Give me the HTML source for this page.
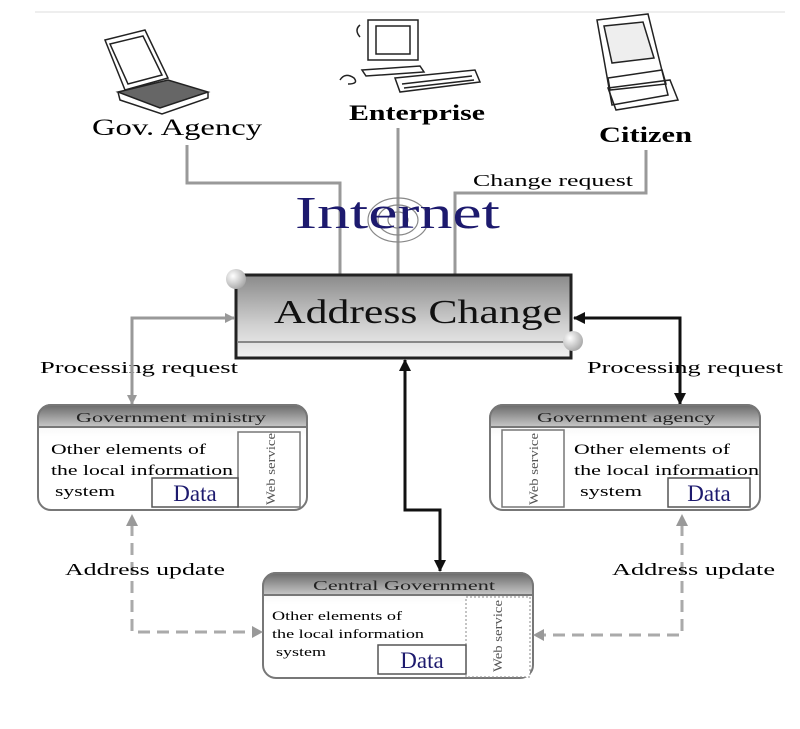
<!DOCTYPE html>
<html><head><meta charset="utf-8"><style>
html,body{margin:0;padding:0;background:#fff;}
svg{display:block;}
text{font-family:"Liberation Serif",serif;}
</style></head><body>
<svg width="800" height="729" viewBox="0 0 800 729" xmlns="http://www.w3.org/2000/svg">
<defs>
<linearGradient id="g1" x1="0" y1="0" x2="0" y2="1">
<stop offset="0" stop-color="#8a8a8a"/><stop offset="0.6" stop-color="#d0d0d0"/><stop offset="1" stop-color="#f2f2f2"/>
</linearGradient>
<linearGradient id="hd" x1="0" y1="0" x2="0" y2="1">
<stop offset="0" stop-color="#6a6a6a"/><stop offset="1" stop-color="#c8c8c8"/>
</linearGradient>
<linearGradient id="bd" x1="0" y1="0" x2="0" y2="1">
<stop offset="0" stop-color="#e8e8e8"/><stop offset="0.3" stop-color="#fff"/><stop offset="1" stop-color="#fff"/>
</linearGradient>
<radialGradient id="ball" cx="0.35" cy="0.35" r="0.7">
<stop offset="0" stop-color="#fff"/><stop offset="1" stop-color="#a8a8a8"/>
</radialGradient>
<marker id="ag" markerWidth="10" markerHeight="10" refX="9" refY="5" orient="auto" markerUnits="userSpaceOnUse"><path d="M0,0 L10,5 L0,10 Z" fill="#999"/></marker>
<marker id="ab" markerWidth="12" markerHeight="12" refX="11" refY="6" orient="auto" markerUnits="userSpaceOnUse"><path d="M0,0 L12,6 L0,12 Z" fill="#111"/></marker>
</defs>
<line x1="35" y1="12" x2="785" y2="12" stroke="#eee" stroke-width="2"/>

<!-- laptop -->
<g stroke="#222" stroke-width="1.5" fill="none">
<path d="M105,40 L145,30 L168,78 L125,90 Z"/>
<path d="M110,44 L143,36 L162,75 L128,84 Z"/>
<path d="M118,92 L168,80 L208,92 L160,108 Z" fill="#666"/>
<path d="M118,92 L120,100 L162,114 L208,98 L208,92"/>
</g>
<!-- computer -->
<g stroke="#222" stroke-width="1.5" fill="none">
<rect x="368" y="20" width="50" height="40"/>
<rect x="376" y="26" width="34" height="28"/>
<path d="M360,25 q-6,5 0,12 M362,70 L420,66 L424,72 L366,76Z"/>
<path d="M395,78 L475,70 L480,82 L400,92 Z"/>
<path d="M340,80 q5,-8 14,-2 q5,6 -6,6"/>
<path d="M402,84 l70,-8 M404,88 l70,-8"/>
</g>
<!-- PDA -->
<g stroke="#222" stroke-width="1.5" fill="none">
<path d="M597,20 L648,14 L668,95 L612,105 Z"/>
<path d="M604,26 L643,22 L654,58 L612,63 Z" fill="#eee"/>
<path d="M608,78 L662,70 L666,84 L610,90Z"/>
<path d="M608,88 L670,80 L678,100 L616,110 Z"/>
</g>

<text x="92" y="135" font-size="23" textLength="170" lengthAdjust="spacingAndGlyphs">Gov. Agency</text>
<text x="349" y="120" font-size="22" font-weight="bold" textLength="136" lengthAdjust="spacingAndGlyphs">Enterprise</text>
<text x="599" y="142" font-size="22" font-weight="bold" textLength="93" lengthAdjust="spacingAndGlyphs">Citizen</text>
<text x="473" y="186" font-size="17" textLength="160" lengthAdjust="spacingAndGlyphs">Change request</text>

<!-- top connectors -->
<g stroke="#999" stroke-width="3" fill="none">
<polyline points="187,145 187,183 340,183 340,275"/>
<line x1="398" y1="128" x2="398" y2="275"/>
<polyline points="646,150 646,193 455,193 455,275"/>
</g>

<!-- internet circles -->
<g fill="none" stroke="#888" stroke-width="1.2">
<ellipse cx="398" cy="220" rx="10" ry="8"/><ellipse cx="398" cy="220" rx="20" ry="15"/><ellipse cx="398" cy="220" rx="30" ry="22"/>
</g>
<text x="295" y="228" font-size="46" fill="#1d1a6e" textLength="205" lengthAdjust="spacingAndGlyphs">Internet</text>

<!-- address change -->
<rect x="236" y="275" width="335" height="83" fill="url(#g1)" stroke="#222" stroke-width="3"/>
<line x1="237" y1="342" x2="570" y2="342" stroke="#888" stroke-width="2"/>
<text x="274" y="323" font-size="34" fill="#111" textLength="288" lengthAdjust="spacingAndGlyphs">Address Change</text>
<circle cx="236" cy="279" r="10" fill="url(#ball)"/>
<circle cx="573" cy="341" r="10" fill="url(#ball)"/>

<text x="40" y="373" font-size="17" textLength="198" lengthAdjust="spacingAndGlyphs">Processing  request</text>
<text x="587" y="373" font-size="17" textLength="196" lengthAdjust="spacingAndGlyphs">Processing  request</text>

<!-- left processing -->
<polyline points="132,404 132,318 234,318" fill="none" stroke="#999" stroke-width="3" marker-end="url(#ag)"/>
<polyline points="132,318 132,404" fill="none" stroke="#999" stroke-width="3" marker-end="url(#ag)"/>
<!-- right processing -->
<polyline points="680,404 680,318 574,318" fill="none" stroke="#111" stroke-width="3" marker-end="url(#ab)"/>
<polyline points="680,318 680,404" fill="none" stroke="#111" stroke-width="3" marker-end="url(#ab)"/>
<!-- center -->
<polyline points="405,360 405,510 440,510 440,571" fill="none" stroke="#111" stroke-width="3" marker-end="url(#ab)"/>
<polyline points="405,510 405,360" fill="none" stroke="#111" stroke-width="3" marker-end="url(#ab)"/>

<!-- ministry -->
<g>
<rect x="38" y="405" width="269" height="105" rx="13" fill="url(#bd)" stroke="#777" stroke-width="2"/>
<path d="M51,405 H294 a13,13 0 0 1 13,13 V427 H38 V418 a13,13 0 0 1 13,-13Z" fill="url(#hd)" stroke="#777" stroke-width="2"/>
<text x="76" y="422" font-size="14" fill="#222" textLength="190" lengthAdjust="spacingAndGlyphs">Government ministry</text>
<rect x="238" y="432" width="62" height="75" fill="#fff" stroke="#777" stroke-width="1.5"/>
<rect x="152" y="478" width="86" height="29" fill="#fff" stroke="#555" stroke-width="1.5"/>
<text x="195" y="501" font-size="23" text-anchor="middle" fill="#1d1a6e">Data</text>
<text transform="translate(275,505) rotate(-90)" font-size="13" fill="#555" textLength="72" lengthAdjust="spacingAndGlyphs">Web service</text>
<text x="51" y="454" font-size="15" textLength="155" lengthAdjust="spacingAndGlyphs">Other elements of</text>
<text x="51" y="475" font-size="15" textLength="182" lengthAdjust="spacingAndGlyphs">the local information</text>
<text x="55" y="496" font-size="15" textLength="60" lengthAdjust="spacingAndGlyphs">system</text>
</g>

<!-- agency -->
<g>
<rect x="490" y="405" width="270" height="105" rx="13" fill="url(#bd)" stroke="#777" stroke-width="2"/>
<path d="M503,405 H747 a13,13 0 0 1 13,13 V427 H490 V418 a13,13 0 0 1 13,-13Z" fill="url(#hd)" stroke="#777" stroke-width="2"/>
<text x="537" y="422" font-size="14" fill="#222" textLength="178" lengthAdjust="spacingAndGlyphs">Government agency</text>
<rect x="502" y="430" width="62" height="77" fill="#fff" stroke="#777" stroke-width="1.5"/>
<rect x="668" y="478" width="82" height="29" fill="#fff" stroke="#555" stroke-width="1.5"/>
<text x="709" y="501" font-size="23" text-anchor="middle" fill="#1d1a6e">Data</text>
<text transform="translate(538,505) rotate(-90)" font-size="13" fill="#555" textLength="72" lengthAdjust="spacingAndGlyphs">Web service</text>
<text x="574" y="454" font-size="15" textLength="156" lengthAdjust="spacingAndGlyphs">Other elements of</text>
<text x="574" y="475" font-size="15" textLength="185" lengthAdjust="spacingAndGlyphs">the local information</text>
<text x="580" y="496" font-size="15" textLength="62" lengthAdjust="spacingAndGlyphs">system</text>
</g>

<!-- central -->
<g>
<rect x="263" y="573" width="270" height="105" rx="13" fill="url(#bd)" stroke="#777" stroke-width="2"/>
<path d="M276,573 H520 a13,13 0 0 1 13,13 V595 H263 V586 a13,13 0 0 1 13,-13Z" fill="url(#hd)" stroke="#777" stroke-width="2"/>
<text x="313" y="590" font-size="14" fill="#222" textLength="182" lengthAdjust="spacingAndGlyphs">Central Government</text>
<rect x="466" y="597" width="64" height="80" fill="#fff" stroke="#888" stroke-width="1" stroke-dasharray="2,2"/>
<rect x="378" y="645" width="88" height="29" fill="#fff" stroke="#555" stroke-width="1.5"/>
<text x="422" y="668" font-size="23" text-anchor="middle" fill="#1d1a6e">Data</text>
<text transform="translate(502,672) rotate(-90)" font-size="13" fill="#555" textLength="72" lengthAdjust="spacingAndGlyphs">Web service</text>
<text x="272" y="620" font-size="13" textLength="130" lengthAdjust="spacingAndGlyphs">Other elements of</text>
<text x="272" y="638" font-size="13" textLength="152" lengthAdjust="spacingAndGlyphs">the local information</text>
<text x="276" y="656" font-size="13" textLength="50" lengthAdjust="spacingAndGlyphs">system</text>
</g>

<!-- dashed -->
<g fill="none" stroke="#aaa" stroke-width="3" stroke-dasharray="12,7">
<polyline points="132,524 132,632 254,632"/>
<polyline points="682,524 682,635 542,635"/>
</g>
<g fill="#999">
<path d="M126,526 L132,514 L138,526Z"/>
<path d="M676,526 L682,514 L688,526Z"/>
<path d="M252,626 L263,632 L252,638Z"/>
<path d="M544,629 L533,635 L544,641Z"/>
</g>
<text x="65" y="575" font-size="17" textLength="160" lengthAdjust="spacingAndGlyphs">Address update</text>
<text x="612" y="575" font-size="17" textLength="163" lengthAdjust="spacingAndGlyphs">Address update</text>
</svg>
</body></html>
